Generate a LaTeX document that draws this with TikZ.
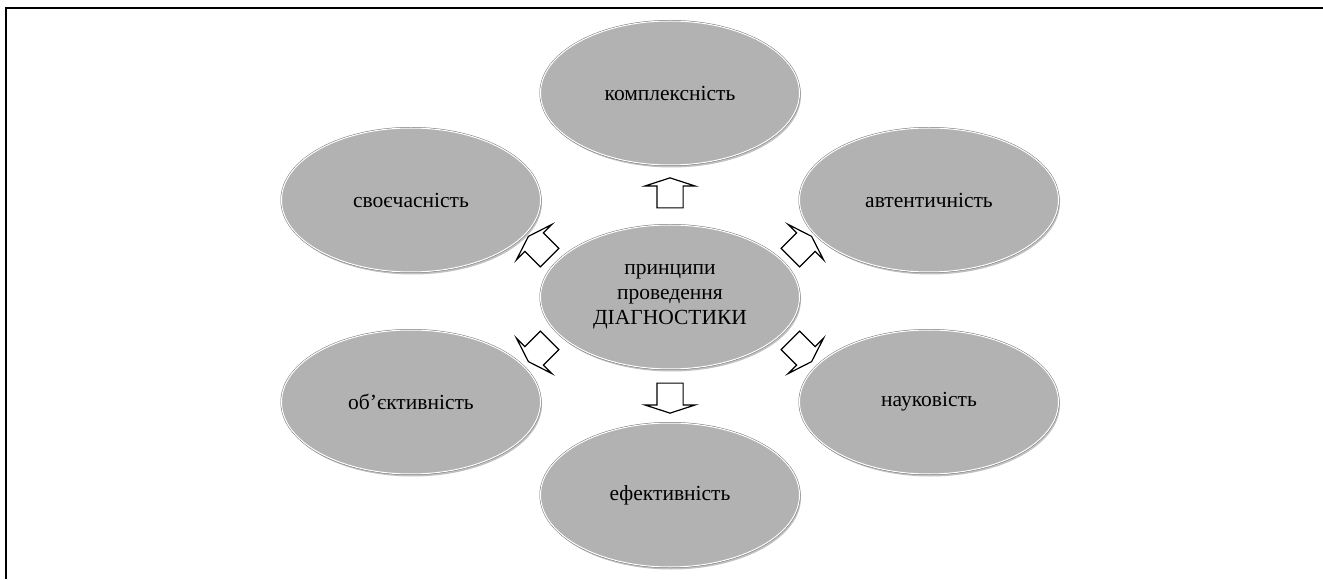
\documentclass[tikz,border=0pt]{standalone}
\usepackage{fontspec}
\setmainfont{Liberation Serif}
\usepackage{tikz}
\usetikzlibrary{
        calc,
        positioning,
        shadows,
        shapes,
        shapes.arrows,
        shapes.geometric
    }
\tikzset{
    idea/.style={ellipse,minimum width=259pt,minimum height=144pt,inner sep=0pt,
        drop shadow={shadow xshift=1.5pt,shadow yshift=-2.5pt,fill=black!35,opacity=.7},
        preaction={draw=black!55,line width=2pt},
        fill=black!30,draw=white,line width=1pt,
        align=center,font=\fontsize{21.5}{25}\selectfont},
    blockarrow/.style={single arrow,draw,fill=white,line width=1.2pt,inner sep=0pt,
        text height=25pt,text depth=0pt,
        minimum height=30pt,single arrow head extend=12pt,
        single arrow tip angle=144}
}
\begin{document}
\begin{tikzpicture}[x=1pt,y=1pt,node distance=200pt]
    \useasboundingbox (0,0) rectangle (1323,579);
    \draw[line width=2.5pt] (6,0) -- (6,571) -- (1323,571);
    \node[idea] (centre) at (670,282) {принципи\\проведення\\ДІАГНОСТИКИ};
    \node[idea] (kompl) [above of=centre,node distance=204pt] {комплексність};
    \node[idea] (efekt) [below of=centre,node distance=198pt] {ефективність};
    \node[idea] (svoech) [above of=centre,node distance=97pt,xshift=-259pt] {своєчасність};
    \node[idea] (avtent) [above of=centre,node distance=97pt,xshift=259pt] {автентичність};
    \node[idea] (obekt) [below of=centre,node distance=105pt,xshift=-259pt] {об’єктивність};
    \node[idea] (nauk) [below of=centre,node distance=105pt,xshift=259pt] {науковість};
    % block arrows
    \node[blockarrow,rotate=90] at ($(centre)!0.5!(kompl)$) {};
    \node[blockarrow,rotate=-90] at ($(centre)!0.5!(efekt)$) {};
    \node[blockarrow,rotate=135] at ($(centre)!0.5!(svoech)$) {};
    \node[blockarrow,rotate=45] at ($(centre)!0.5!(avtent)$) {};
    \node[blockarrow,rotate=225] at ($(centre)!0.5!(obekt)$) {};
    \node[blockarrow,rotate=-45] at ($(centre)!0.5!(nauk)$) {};
\end{tikzpicture}
\end{document}
